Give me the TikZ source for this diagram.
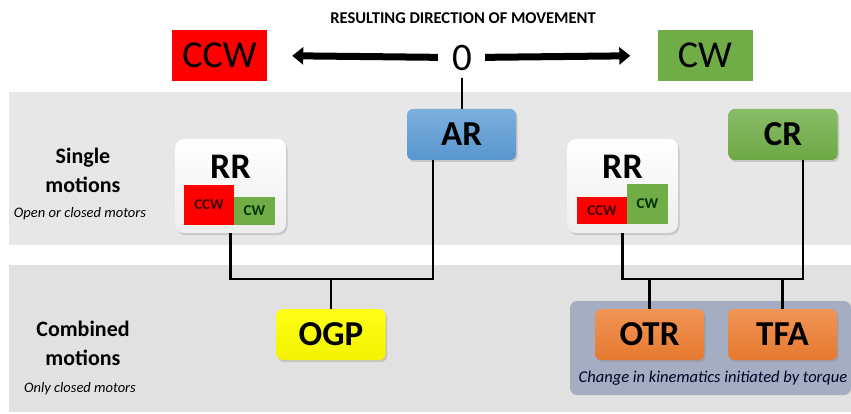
\documentclass[tikz,border=0pt]{standalone}
\usepackage{fontspec}
\setmainfont{Carlito}
\usetikzlibrary{arrows.meta,shadows,calc}
\definecolor{bandA}{HTML}{E7E7E7}
\definecolor{bandB}{HTML}{E1E1E1}
\definecolor{slate}{HTML}{A4ADC2}
\definecolor{myred}{HTML}{FF0000}
\definecolor{mygreen}{HTML}{70AD47}
\definecolor{myblue}{HTML}{5B9BD5}
\definecolor{myyellow}{HTML}{FFFF00}
\definecolor{myorange}{HTML}{ED7D31}
\newcommand\myfs[1]{\fontsize{#1}{#1}\selectfont}
\begin{document}
\begin{tikzpicture}[x=1pt,y=-1pt,
  btn/.style={rounded corners=6pt, minimum width=109pt, minimum height=51pt, inner sep=0pt,
    font=\myfs{35}\bfseries, drop shadow={shadow xshift=1.5pt,shadow yshift=-2pt,opacity=0.3}},
  rrbox/.style={rounded corners=9pt, minimum width=111pt, minimum height=94pt, inner sep=0pt,
    top color=white, bottom color=white!93!black, drop shadow={shadow xshift=1.5pt,shadow yshift=-2pt,opacity=0.3}},
  dirbox/.style={minimum width=95pt, minimum height=51pt, inner sep=0pt, font=\myfs{38}},
  small/.style={inner sep=0pt, font=\myfs{15}\bfseries},
  sidehead/.style={inner sep=0pt, anchor=base, font=\myfs{22}\bfseries},
  sidenote/.style={inner sep=0pt, anchor=base, font=\myfs{14.5}\itshape},
  link/.style={line width=2.6pt},
  fat/.style={line width=7pt, -{Triangle[width=17pt,length=11pt]}}
]
\useasboundingbox (0,0) rectangle (851,414);
\fill[white] (0,0) rectangle (851,414);
\fill[bandA] (9,92) rectangle (851,245);
\fill[bandB] (9,265) rectangle (851,412);
\fill[slate, rounded corners=7pt] (570,301) rectangle (851,395);

% top
\node[inner sep=0pt, anchor=base, font=\myfs{16.5}\bfseries] (title) at (463,24) {RESULTING DIRECTION OF MOVEMENT};
\node[dirbox, fill=myred] (ccw) at (219.5,55.5) {CCW};
\node[dirbox, fill=mygreen] (cw) at (705,55.5) {CW};
\node[inner sep=0pt, font=\myfs{39}] (zero) at (462,57.5) {0};
\draw[fat, shorten <=14pt, shorten >=25pt] (zero.west) -- (ccw.east);
\draw[fat, shorten <=13pt, shorten >=27pt] (zero.east) -- (cw.west);

% single motions
\node[sidehead] (s1) at (83,164) {Single};
\node[sidehead] (s2) at (83,193) {motions};
\node[sidenote] (s3) at (80,218) {Open or closed motors};

\node[btn, top color=myblue!80!white, bottom color=myblue!97!black] (AR) at (461.5,134.5) {AR};
\node[btn, top color=mygreen!82!white, bottom color=mygreen!97!black] (CR) at (783,134.5) {CR};
\draw[link, shorten <=8pt] (zero.south) -- (zero.south |- AR.north);

\node[rrbox] (rr1) at (230.5,186) {};
\node[inner sep=0pt, font=\myfs{36}\bfseries] (rr1t) at (230.5,167) {RR};
\node[small, fill=myred, minimum width=50pt, minimum height=40pt, text=black!75!red] (rr1a) at (209,205) {CCW};
\node[small, fill=mygreen, minimum width=41pt, minimum height=28pt, text=black!80!green] (rr1b) at (254.5,211) {CW};

\node[rrbox] (rr2) at (622.5,186) {};
\node[inner sep=0pt, font=\myfs{36}\bfseries] (rr2t) at (622.5,167) {RR};
\node[small, fill=myred, minimum width=50pt, minimum height=27pt, text=black!75!red] (rr2a) at (602,210.5) {CCW};
\node[small, fill=mygreen, minimum width=41pt, minimum height=40pt, text=black!80!green] (rr2b) at (647.5,204) {CW};

% combined motions
\node[sidehead] (c1) at (83,336) {Combined};
\node[sidehead] (c2) at (83,365) {motions};
\node[sidenote] (c3) at (80,392) {Only closed motors};

\node[btn, top color=myyellow!90!white, bottom color=myyellow!95!black] (OGP) at (331,334.5) {OGP};
\node[btn, top color=myorange!82!white, bottom color=myorange!97!black] (OTR) at (649.5,334.5) {OTR};
\node[btn, top color=myorange!82!white, bottom color=myorange!97!black] (TFA) at (782.5,334.5) {TFA};
\node[inner sep=0pt, anchor=base, font=\myfs{16.5}\itshape, text=black!85!blue] (cap) at (713,382) {Change in kinematics initiated by torque};

% connectors
\coordinate (jL) at (331,279);
\coordinate (jR) at (700,279);
\draw[link] (rr1.south) |- (jL) -| ([xshift=-28.5pt]AR.south);
\draw[link] (jL) -- (OGP.north);
\draw[link] (rr2.south) |- (jR) -| ([xshift=20pt]CR.south);
\draw[link] (OTR.north) -- (OTR.north |- jR);
\draw[link] (TFA.north) -- (TFA.north |- jR);
\end{tikzpicture}
\end{document}
